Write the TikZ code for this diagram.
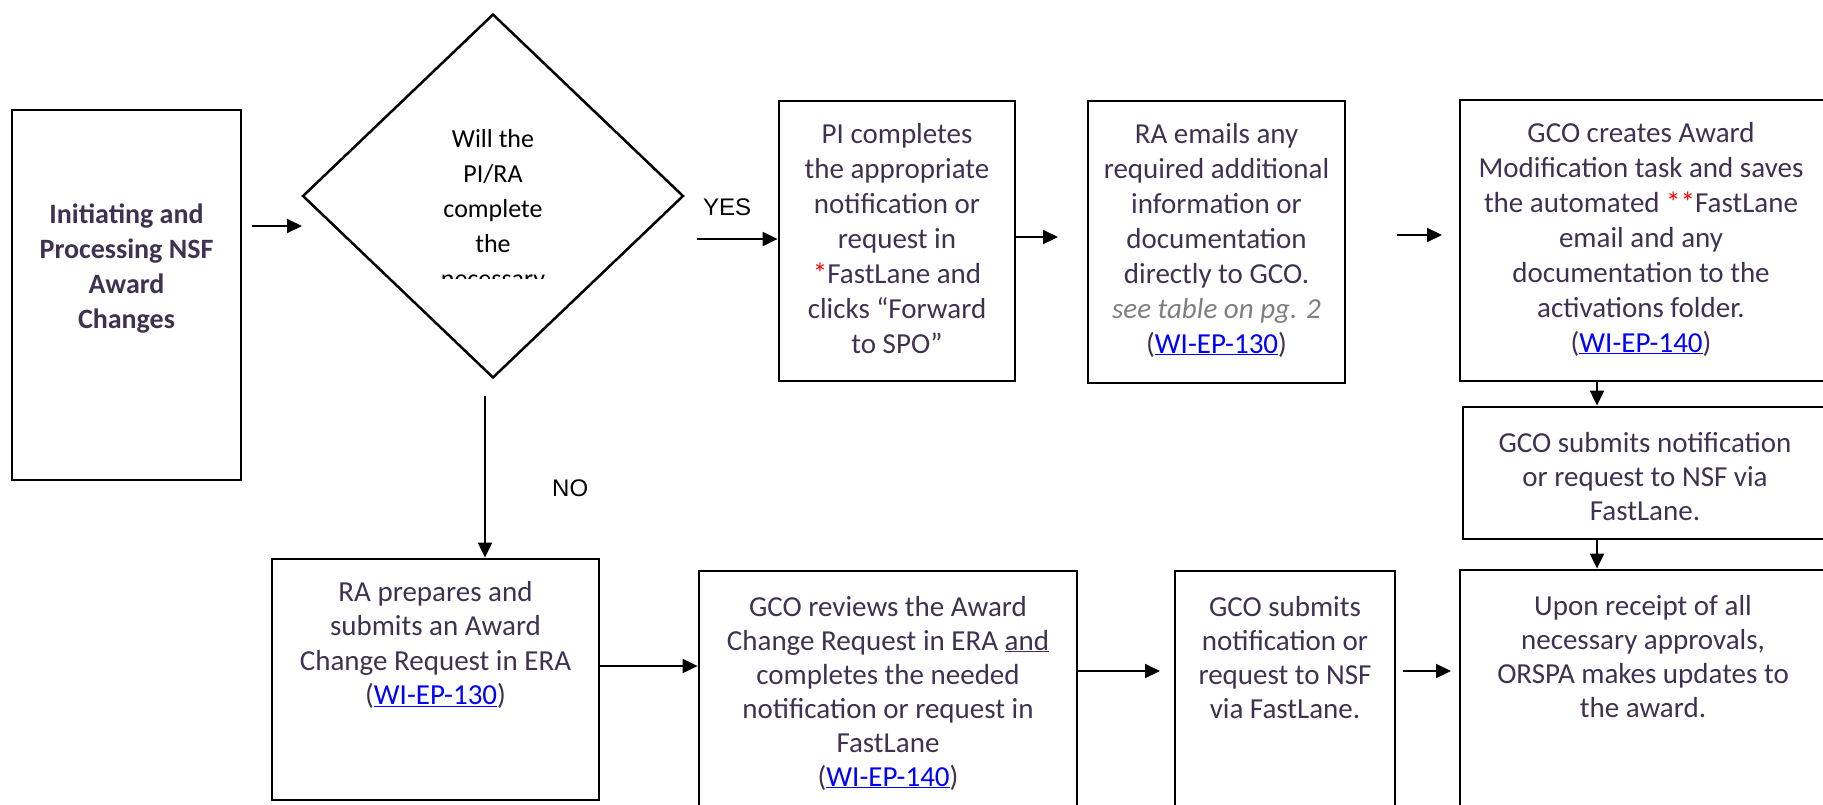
\documentclass[tikz,border=0pt]{standalone}
\usepackage{fontspec}
\setmainfont{Carlito}
\newfontfamily\arialf{Liberation Sans}
\usetikzlibrary{arrows.meta,shapes.geometric}
\definecolor{txtpurple}{HTML}{3F3151}
\definecolor{linkblue}{HTML}{0000FF}
\definecolor{notegray}{HTML}{7F7F7F}
\definecolor{astred}{HTML}{FF0000}
\newcommand\lnk[1]{\textcolor{linkblue}{\underline{#1}}}
\newcommand\ptext[2]{\parbox[t]{#1}{\centering #2}}
\begin{document}
\begin{tikzpicture}[x=1pt,y=-1pt,
  boxshape/.style={draw=black, line width=2.8pt, inner sep=0pt, rectangle},
  txt/.style={inner sep=0pt, anchor=base, text=txtpurple, font=\fontsize{29}{35}\selectfont},
  arr/.style={-{Triangle[length=15pt,width=14pt]}, line width=2pt},
  lbl/.style={inner sep=0pt, anchor=base west, font=\arialf\fontsize{24}{28}\selectfont}]
\useasboundingbox (0,0) rectangle (1823,804);
\clip (0,0) rectangle (1823,804);

% boxes
\node[boxshape, minimum width=229pt, minimum height=370pt] (b1) at (126.5,295) {};
\node[diamond, draw=black, line width=2.5pt, inner sep=0pt, minimum width=381pt, minimum height=364pt] (d) at (493,196) {};
\node[boxshape, minimum width=236pt, minimum height=280pt] (b2) at (897,241) {};
\node[boxshape, minimum width=257pt, minimum height=282pt] (b3) at (1216.5,242) {};
\node[boxshape, minimum width=366pt, minimum height=281pt] (b4) at (1643,240.5) {};
\node[boxshape, minimum width=363pt, minimum height=132pt] (b5) at (1644.5,473) {};
\node[boxshape, minimum width=327pt, minimum height=241pt] (b6) at (435.5,679.5) {};
\node[boxshape, minimum width=378pt, minimum height=239pt] (b7) at (888,690.5) {};
\node[boxshape, minimum width=220pt, minimum height=239pt] (b8) at (1285,690.5) {};
\node[boxshape, minimum width=366pt, minimum height=240pt] (b9) at (1643,690) {};

% texts
\node[txt, font=\bfseries\fontsize{28}{35}\selectfont] (t1) at (126.5,223)
  {\ptext{220pt}{Initiating and\\Processing NSF\\Award\\Changes}};
\begin{scope}
  \clip (300,0) rectangle (690,278);
  \node[txt, text=black, font=\fontsize{26}{35}\selectfont] (td) at (493,147)
    {\ptext{200pt}{Will the\\PI/RA\\complete\\the\\necessary}};
\end{scope}
\node[txt] (t2) at (897,143)
  {\ptext{230pt}{PI completes\\the appropriate\\notification or\\request in\\\textcolor{astred}{*}FastLane and\\clicks “Forward\\to SPO”}};
\node[txt] (t3) at (1216.5,143)
  {\ptext{255pt}{RA emails any\\required additional\\information or\\documentation\\directly to GCO.\\\textcolor{notegray}{\itshape see table on pg. 2}\\(\lnk{WI-EP-130})}};
\node[txt] (t4) at (1641,142)
  {\ptext{360pt}{GCO creates Award\\Modification task and saves\\the automated \textcolor{astred}{**}FastLane\\email and any\\documentation to the\\activations folder.\\(\lnk{WI-EP-140})}};
\node[txt, font=\fontsize{29}{34}\selectfont] (t5) at (1645,452)
  {\ptext{360pt}{GCO submits notification\\or request to NSF via\\FastLane.}};
\node[txt, font=\fontsize{29}{34.5}\selectfont] (t6) at (435.5,601)
  {\ptext{320pt}{RA prepares and\\submits an Award\\Change Request in ERA\\(\lnk{WI-EP-130})}};
\node[txt, font=\fontsize{29}{34}\selectfont] (t7) at (888,616)
  {\ptext{370pt}{GCO reviews the Award\\Change Request in ERA \underline{and}\\completes the needed\\notification or request in\\FastLane\\(\lnk{WI-EP-140})}};
\node[txt, font=\fontsize{29}{34}\selectfont] (t8) at (1285,616)
  {\ptext{215pt}{GCO submits\\notification or\\request to NSF\\via FastLane.}};
\node[txt, font=\fontsize{29}{34}\selectfont] (t9) at (1643,615)
  {\ptext{360pt}{Upon receipt of all\\necessary approvals,\\ORSPA makes updates to\\the award.}};

% labels
\node[lbl] (yes) at (703,215) {YES};
\node[lbl] (no) at (552,496) {NO};

% connector coordinates
\coordinate (a1s) at (252,226);
\coordinate (a1e) at (302,226);
\coordinate (a2s) at (697,239);
\coordinate (a3y) at (0,237);
\coordinate (a3e) at (1058,237);
\coordinate (a4s) at (1397,235);
\coordinate (a4e) at (1442,235);
\coordinate (a5x) at (1597,0);
\coordinate (a7s) at (485,396);
\coordinate (a8y) at (0,666);
\coordinate (a9y) at (0,671);
\coordinate (a9e) at (1160,671);
\coordinate (a10s) at (1403,671);
\coordinate (a10e) at (1451,671);

% connectors
\draw[arr] (a1s) -- (a1e);
\draw[arr] (a2s) -- (b2.west |- a2s);
\draw[arr] (b2.east |- a3y) -- (a3e);
\draw[arr] (a4s) -- (a4e);
\draw[arr] (b4.south -| a5x) -- (b5.north -| a5x);
\draw[arr] (b5.south -| a5x) -- (b9.north -| a5x);
\draw[arr] (a7s) -- (b6.north -| a7s);
\draw[arr] (b6.east |- a8y) -- (b7.west |- a8y);
\draw[arr] (b7.east |- a9y) -- (a9e);
\draw[arr] (a10s) -- (a10e);
\end{tikzpicture}
\end{document}
